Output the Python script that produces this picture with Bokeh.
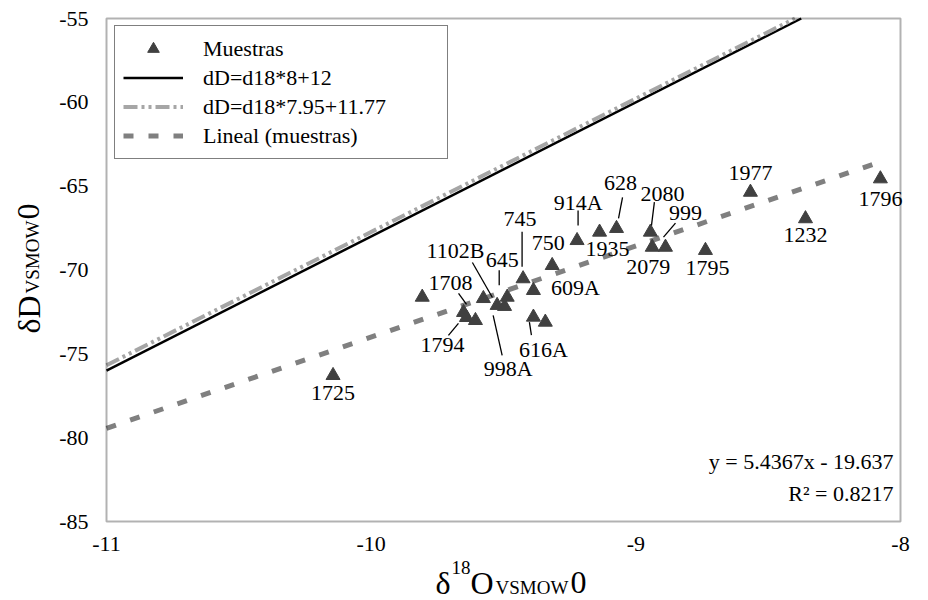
import math
from bokeh.plotting import figure
from bokeh.models import (Label, Range1d, Legend, LegendItem, ColumnDataSource, FixedTicker,
                          PrintfTickFormatter, LinearAxis, BoxAnnotation)
from bokeh.embed import file_html
from bokeh.resources import INLINE
from bokeh.core.properties import value

# ---------------- data ----------------
sample_names = ["1725", "", "1708", "1794", "", "1102B", "998A", "", "645", "745",
                "609A", "750", "616A", "", "914A", "1935", "628", "2080", "2079",
                "999", "1795", "1977", "1232", "1796"]
d18O = [-10.144, -9.807, -9.651, -9.640, -9.606, -9.576, -9.524, -9.496, -9.486, -9.426,
        -9.387, -9.316, -9.387, -9.342, -9.222, -9.137, -9.073, -8.945, -8.938,
        -8.888, -8.737, -8.567, -8.359, -8.076]
dD = [-76.29, -71.62, -72.53, -72.83, -73.01, -71.70, -72.11, -72.17, -71.62, -70.52,
      -71.22, -69.73, -72.81, -73.11, -68.24, -67.74, -67.52, -67.74, -68.64,
      -68.64, -68.83, -65.36, -66.94, -64.56]

gmwl_slope, gmwl_icpt = 8.0, 12.0
lmwl_slope, lmwl_icpt = 7.95, 11.77
trend_slope, trend_icpt = 5.4367, -19.637
r2_text = "0.8217"

x_ticks = [-11, -10, -9, -8]
y_ticks = [-85, -80, -75, -70, -65, -60, -55]

# ---------------- layout (pixels) ----------------
W, H = 928, 600
FX0, FX1, FY0, FY1 = 106, 900, 18, 521          # position of the axis box on the page
XMIN, XMAX, YMIN, YMAX = -11, -8, -85, -55
SX = (FX1 - FX0) / (XMAX - XMIN)
SY = (FY1 - FY0) / (YMAX - YMIN)

def px_x(px):
    return XMIN + (px - FX0) / SX

def px_y(py):
    return YMAX - (py - FY0) / SY

# label offset from its point (dx, dy) in px, y downward
label_off = {
    "1725": (0, 18), "1708": (-13, -29), "1794": (-24, 28), "1102B": (-28, -48),
    "998A": (11, 63), "645": (-5, -37), "745": (-3, -60), "609A": (42, -3),
    "750": (-4, -22), "616A": (10, 32), "914A": (1, -38), "1935": (8, 17),
    "628": (4, -45), "2080": (12, -38), "2079": (-4, 20), "999": (20, -34),
    "1795": (2, 18), "1977": (0, -19), "1232": (0, 16), "1796": (0, 20),
}
# leader lines (x0, y0, x1, y1) in px relative to the point
leader_off = {
    "1708": (-5, -19, 3, -8), "1794": (-18, 18, -8, 6), "1102B": (-11, -36, 9, -1),
    "998A": (5, 50, -4, 10), "645": (-8, -27, -8, -12), "745": (-1, -47, -1, -12),
    "616A": (-2, 18, -4, 5), "914A": (1, -30, 1, -15), "628": (6, -31, 2, -10),
    "2080": (4, -30, 1, -6), "999": (10, -24, -2, -10),
}

SERIF = "Liberation Serif"

# the frame covers the whole page; the axis box is drawn inside it
p = figure(width=W, height=H,
           x_range=Range1d(px_x(0), px_x(W)), y_range=Range1d(px_y(H), px_y(0)),
           output_backend="svg", toolbar_location=None,
           x_axis_location=None, y_axis_location=None,
           min_border=0, min_border_left=0, min_border_right=0,
           min_border_top=0, min_border_bottom=0)
p.background_fill_color = "white"
p.border_fill_color = "white"
p.outline_line_color = None
p.grid.visible = False

def plain_axis(ax):
    ax.axis_line_color = None
    ax.major_tick_line_color = None
    ax.minor_tick_line_color = None
    ax.major_tick_in = 0
    ax.major_tick_out = 0
    ax.minor_tick_in = 0
    ax.minor_tick_out = 0
    ax.major_label_text_font = SERIF
    ax.major_label_text_color = "black"
    ax.major_label_text_font_size = "22px"
    ax.formatter = PrintfTickFormatter(format="%d")

xaxis = LinearAxis(fixed_location=YMIN, ticker=FixedTicker(ticks=x_ticks))
plain_axis(xaxis)
xaxis.major_label_standoff = 15
p.add_layout(xaxis, "below")
yaxis = LinearAxis(fixed_location=XMIN, ticker=FixedTicker(ticks=y_ticks))
plain_axis(yaxis)
yaxis.major_label_standoff = 18
p.add_layout(yaxis, "left")

# axis box
p.add_layout(BoxAnnotation(left=XMIN, right=XMAX, bottom=YMIN, top=YMAX,
                           fill_color=None, line_color="black", line_width=2))

# lines (meteoric water lines clipped to the axis box)
def mwl(slope, icpt):
    x_end = min(XMAX, (YMAX - icpt) / slope)
    xs = [XMIN, x_end]
    return xs, [slope * v + icpt for v in xs]

gx, gy = mwl(gmwl_slope, gmwl_icpt)
r_gmwl = p.line(gx, gy, line_color="black", line_width=2.5)
lx, ly = mwl(lmwl_slope, lmwl_icpt)
r_lmwl = p.line(lx, ly, line_color="#a6a6a6", line_width=4, line_dash="14 4 3 4 3 4")
xt = [XMIN, max(d18O)]
r_trend = p.line(xt, [trend_slope * v + trend_icpt for v in xt], line_color="#808080",
                 line_width=5, line_dash="10 15")

# leader lines
lx0, ly0, lx1, ly1 = [], [], [], []
for n, x, y in zip(sample_names, d18O, dD):
    if n in leader_off:
        a, b, c, d = leader_off[n]
        lx0.append(x + a / SX); ly0.append(y - b / SY)
        lx1.append(x + c / SX); ly1.append(y - d / SY)
p.segment(x0=lx0, y0=ly0, x1=lx1, y1=ly1, line_color="black", line_width=1.3)

# points
src = ColumnDataSource(dict(x=d18O, y=dD, name=sample_names))
r_pts = p.scatter("x", "y", source=src, marker="triangle", size=14,
                  fill_color="#404040", line_color="#404040")

# point labels
tx, ty, tt = [], [], []
for n, x, y in zip(sample_names, d18O, dD):
    if n:
        dx, dy = label_off[n]
        tx.append(x + dx / SX); ty.append(y - dy / SY); tt.append(n)
p.text(x=tx, y=ty, text=tt, text_font=value(SERIF), text_font_size="22px",
       text_align="center", text_baseline="middle", text_color="black")

# regression equation
p.add_layout(Label(x=px_x(893), y=px_y(461), text=f"y = {trend_slope}x - {abs(trend_icpt)}",
                   text_font=SERIF, text_font_size="22px", text_align="right",
                   text_baseline="middle", text_color="black"))
p.add_layout(Label(x=px_x(893), y=px_y(493), text=f"R\u00b2 = {r2_text}",
                   text_font=SERIF, text_font_size="22px", text_align="right",
                   text_baseline="middle", text_color="black"))

# axis titles built from pieces
def lab(px, py, text, size, angle=0.0):
    p.add_layout(Label(x=px_x(px), y=px_y(py), text=text, text_font=SERIF,
                       text_font_size=size, text_align="left", text_baseline="alphabetic",
                       text_color="black", angle=angle))

BIG, SUB = "32px", "19px"
x0 = 435
lab(x0, 582, "\u03b4", BIG)
lab(x0 + 16, 567, "18", SUB)
lab(x0 + 35, 582, "O", BIG)
lab(x0 + 60, 587, "VSMOW", SUB)
lab(x0 + 135, 582, "0", BIG)

y0 = 333
A = math.pi / 2
lab(28, y0, "\u03b4D", BIG, A)
lab(32, y0 - 40, "VSMOW", SUB, A)
lab(28, y0 - 114, "0", BIG, A)

legend = Legend(items=[
    LegendItem(label="Muestras", renderers=[r_pts]),
    LegendItem(label="dD=d18*8+12", renderers=[r_gmwl]),
    LegendItem(label="dD=d18*7.95+11.77", renderers=[r_lmwl]),
    LegendItem(label="Lineal (muestras)", renderers=[r_trend]),
], location=(114, H - 27 - 132))
legend.margin = 0
legend.padding = 8
legend.spacing = 0
legend.glyph_width = 60
legend.glyph_height = 29
legend.label_height = 29
legend.label_width = 236
legend.label_standoff = 20
legend.label_text_font = SERIF
legend.label_text_font_size = "22px"
legend.label_text_color = "black"
legend.border_line_color = "black"
legend.border_line_width = 1.5
legend.background_fill_color = "white"
legend.background_fill_alpha = 1.0
p.add_layout(legend)

open("out.html", "w").write(file_html(p, INLINE))
